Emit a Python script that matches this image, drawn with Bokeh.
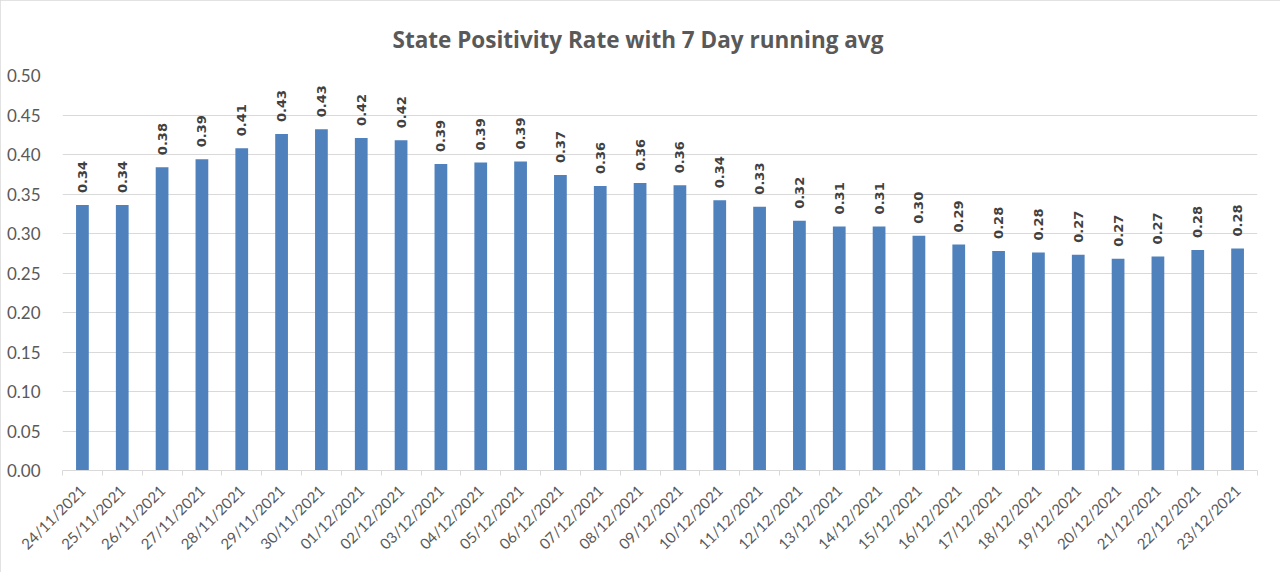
import math
from bokeh.plotting import figure
from bokeh.models import ColumnDataSource, FixedTicker, NumeralTickFormatter, Range1d
from bokeh.core.properties import value
from bokeh.embed import file_html
from bokeh.resources import INLINE

dates = ["24/11/2021", "25/11/2021", "26/11/2021", "27/11/2021", "28/11/2021",
         "29/11/2021", "30/11/2021", "01/12/2021", "02/12/2021", "03/12/2021",
         "04/12/2021", "05/12/2021", "06/12/2021", "07/12/2021", "08/12/2021",
         "09/12/2021", "10/12/2021", "11/12/2021", "12/12/2021", "13/12/2021",
         "14/12/2021", "15/12/2021", "16/12/2021", "17/12/2021", "18/12/2021",
         "19/12/2021", "20/12/2021", "21/12/2021", "22/12/2021", "23/12/2021"]
rates = [0.336, 0.336, 0.384, 0.394, 0.408, 0.426, 0.432, 0.421, 0.418, 0.388,
         0.390, 0.391, 0.374, 0.360, 0.364, 0.361, 0.342, 0.334, 0.316, 0.309,
         0.309, 0.297, 0.286, 0.278, 0.276, 0.273, 0.268, 0.271, 0.279, 0.281]
y_ticks = [0.0, 0.05, 0.10, 0.15, 0.20, 0.25, 0.30, 0.35, 0.40, 0.45, 0.50]
title_text = "State Positivity Rate with 7 Day running avg"

xs = [i + 0.5 for i in range(len(dates))]
src = ColumnDataSource(dict(x=xs, y=rates, lbl=["{:.2f}".format(v) for v in rates]))

p = figure(width=1280, height=572, output_backend="svg", toolbar_location=None,
           x_range=Range1d(0, len(dates)), y_range=Range1d(0, 0.5),
           min_border_left=62, min_border_right=23, min_border_top=74, min_border_bottom=102,
           title=title_text,
           styles={"outline": "3px solid #d9d9d9", "outline-offset": "-3px"})
p.outline_line_color = None
p.background_fill_color = "white"
p.border_fill_color = "white"

p.title.align = "left"
p.title.offset = 330
p.title.standoff = 42
p.title.text_font = "Open Sans"
p.title.text_font_size = "22.5px"
p.title.text_font_style = "bold"
p.title.text_color = "#595959"

p.vbar(x="x", top="y", width=0.32, source=src, fill_color="#4f81bd", line_color=None)
p.text(x="x", y="y", text="lbl", source=src, angle=math.pi / 2, text_align="left",
       text_baseline="middle", y_offset=-12, text_font=value("DejaVu Sans"),
       text_font_size="13px", text_font_style="bold", text_color="#404040")

# x axis
p.xaxis.ticker = FixedTicker(ticks=xs, minor_ticks=list(range(len(dates) + 1)))
p.xaxis.major_label_overrides = {x: d for x, d in zip(xs, dates)}
p.xaxis.major_label_orientation = math.pi / 4
p.xaxis.major_tick_out = 0
p.xaxis.major_tick_in = 0
p.xaxis.minor_tick_out = 5
p.xaxis.minor_tick_in = 0
p.xaxis.minor_tick_line_color = "#d9d9d9"
p.xaxis.axis_line_color = "#d9d9d9"
p.xaxis.major_label_text_font = "Lato"
p.xaxis.major_label_text_font_size = "15px"
p.xaxis.major_label_text_color = "#595959"
p.xaxis.major_label_standoff = 12

# y axis
p.yaxis.ticker = FixedTicker(ticks=y_ticks)
p.yaxis.formatter = NumeralTickFormatter(format="0.00")
p.yaxis.axis_line_color = None
p.yaxis.major_tick_line_color = None
p.yaxis.minor_tick_line_color = None
p.yaxis.major_label_text_font = "Lato"
p.yaxis.major_label_text_font_size = "17px"
p.yaxis.major_label_text_color = "#595959"
p.yaxis.major_label_standoff = 16

p.xgrid.grid_line_color = None
p.ygrid.grid_line_color = "#d9d9d9"

open("out.html", "w").write(file_html(p, INLINE))
